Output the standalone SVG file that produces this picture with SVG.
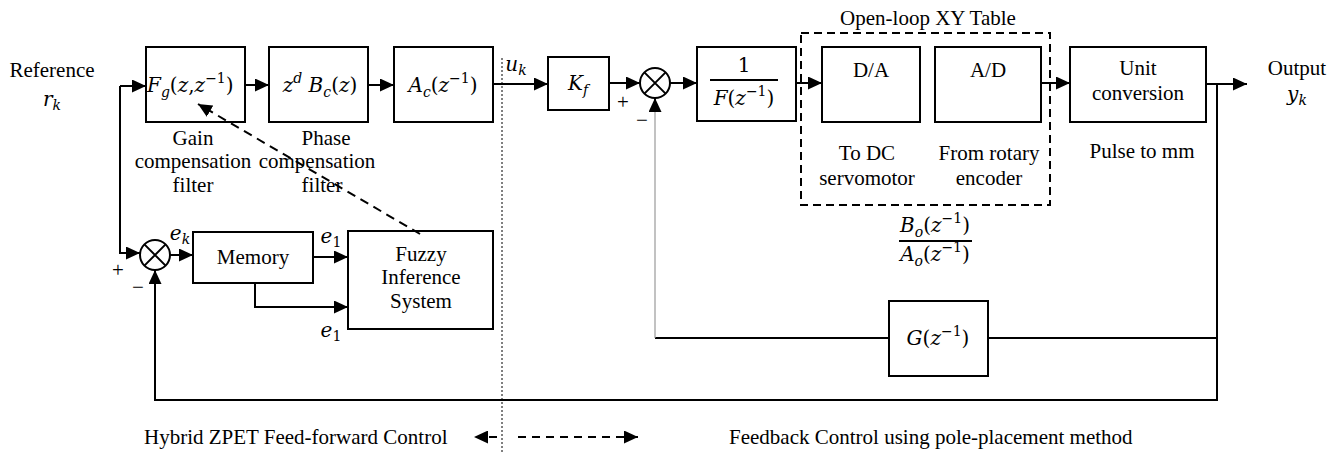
<svg xmlns="http://www.w3.org/2000/svg" width="1343" height="453" viewBox="0 0 1343 453">
<style>
.box{fill:#fff;stroke:#000;stroke-width:2}
.ln{fill:none;stroke:#000;stroke-width:2}
.thin{fill:none;stroke:#999;stroke-width:1.2}
.t{font-family:'Liberation Serif','Times New Roman',Times,serif;font-size:21px;fill:#000}
.m{font-family:'DejaVu Serif','Liberation Serif',serif;font-size:20px;fill:#000}
.i{font-style:italic}
.mid{text-anchor:middle}
</style>
<defs>
<marker id="ah" markerUnits="userSpaceOnUse" markerWidth="15" markerHeight="13" refX="14" refY="6.5" orient="auto">
<path d="M0,0 L14,6.5 L0,13 z" fill="#000"/>
</marker>
</defs>

<g id="openloop">
<rect x="801" y="33" width="249" height="172" fill="none" stroke="#000" stroke-width="2" stroke-dasharray="8 5"/>
<text class="t mid" x="928" y="25">Open-loop XY Table</text>
</g>

<g id="reference">
<text class="t mid" x="52" y="77">Reference</text>
<text class="m mid" x="52" y="106"><tspan class="i">r</tspan><tspan class="i" font-size="14" dy="4">k</tspan></text>
</g>

<g id="gainfilter">
<rect class="box" x="146" y="47" width="99" height="75"/>
<text class="m" x="147" y="92"><tspan class="i">F</tspan><tspan class="i" font-size="14" dy="5">g</tspan><tspan dy="-5">(</tspan><tspan class="i">z</tspan>,<tspan class="i">z</tspan><tspan font-size="14" dy="-9">−1</tspan><tspan dy="9">)</tspan></text>
<text class="t mid" x="193" y="145">Gain</text>
<text class="t mid" x="193" y="168">compensation</text>
<text class="t mid" x="193" y="192">filter</text>
</g>

<g id="phasefilter">
<rect class="box" x="269" y="47" width="99" height="75"/>
<text class="m mid" x="320" y="92"><tspan class="i">z</tspan><tspan class="i" font-size="14" dy="-9">d</tspan><tspan class="i" dy="9"> B</tspan><tspan class="i" font-size="14" dy="5">c</tspan><tspan dy="-5">(</tspan><tspan class="i">z</tspan>)</text>
<text class="t mid" x="326" y="145">Phase</text>
<text class="t mid" x="317" y="168">compensation</text>
<text class="t mid" x="322" y="192">filter</text>
</g>

<g id="ac">
<rect class="box" x="394" y="47" width="99" height="75"/>
<text class="m mid" x="443" y="92"><tspan class="i">A</tspan><tspan class="i" font-size="14" dy="5">c</tspan><tspan dy="-5">(</tspan><tspan class="i">z</tspan><tspan font-size="14" dy="-9">−1</tspan><tspan dy="9">)</tspan></text>
</g>

<g id="uk">
<text class="m mid" x="516" y="71"><tspan class="i">u</tspan><tspan class="i" font-size="14" dy="4">k</tspan></text>
</g>

<g id="kf">
<rect class="box" x="548" y="57" width="61" height="53"/>
<text class="m mid" x="578" y="90"><tspan class="i">K</tspan><tspan class="i" font-size="14" dy="5">f</tspan></text>
</g>

<g id="sum1">
<circle cx="655" cy="83" r="15" fill="#fff" stroke="#000" stroke-width="2"/>
<path class="ln" d="M644.4,72.4 L665.6,93.6 M665.6,72.4 L644.4,93.6"/>
<text class="t mid" x="623" y="109">+</text>
<text class="t mid" x="642" y="127">−</text>
</g>

<g id="invF">
<rect class="box" x="697" y="47" width="99" height="74"/>
<text class="m mid" x="744" y="72">1</text>
<line x1="710" y1="80" x2="778" y2="80" stroke="#000" stroke-width="2"/>
<text class="m mid" x="744" y="105"><tspan class="i">F</tspan>(<tspan class="i">z</tspan><tspan font-size="14" dy="-9">−1</tspan><tspan dy="9">)</tspan></text>
</g>

<g id="da">
<rect class="box" x="822" y="47" width="98" height="75"/>
<text class="t mid" x="871" y="77">D/A</text>
<text class="t mid" x="867" y="160">To DC</text>
<text class="t mid" x="867" y="185">servomotor</text>
</g>

<g id="ad">
<rect class="box" x="935" y="47" width="106" height="75"/>
<text class="t mid" x="988" y="77">A/D</text>
<text class="t mid" x="989" y="160">From rotary</text>
<text class="t mid" x="989" y="185">encoder</text>
</g>

<g id="plant">
<text class="m mid" x="935" y="232"><tspan class="i">B</tspan><tspan class="i" font-size="14" dy="5">o</tspan><tspan dy="-5">(</tspan><tspan class="i">z</tspan><tspan font-size="14" dy="-9">−1</tspan><tspan dy="9">)</tspan></text>
<line x1="899" y1="241" x2="972" y2="241" stroke="#000" stroke-width="2"/>
<text class="m mid" x="935" y="261"><tspan class="i">A</tspan><tspan class="i" font-size="14" dy="5">o</tspan><tspan dy="-5">(</tspan><tspan class="i">z</tspan><tspan font-size="14" dy="-9">−1</tspan><tspan dy="9">)</tspan></text>
</g>

<g id="unit">
<rect class="box" x="1070" y="47" width="136" height="75"/>
<text class="t mid" x="1138" y="75">Unit</text>
<text class="t mid" x="1138" y="100">conversion</text>
<text class="t mid" x="1142" y="158">Pulse to mm</text>
</g>

<g id="output">
<text class="t mid" x="1297" y="75">Output</text>
<text class="m mid" x="1297" y="101"><tspan class="i">y</tspan><tspan class="i" font-size="14" dy="4">k</tspan></text>
</g>

<g id="sum2">
<circle cx="155" cy="255" r="15" fill="#fff" stroke="#000" stroke-width="2"/>
<path class="ln" d="M144.4,244.4 L165.6,265.6 M165.6,244.4 L144.4,265.6"/>
<text class="t mid" x="118" y="277">+</text>
<text class="t mid" x="138" y="294">−</text>
<text class="m mid" x="180" y="240"><tspan class="i">e</tspan><tspan class="i" font-size="14" dy="4">k</tspan></text>
</g>

<g id="memory">
<rect class="box" x="193" y="232" width="120" height="51"/>
<text class="t mid" x="253" y="264">Memory</text>
<text class="m mid" x="331" y="243"><tspan class="i">e</tspan><tspan font-size="14" dy="4">1</tspan></text>
<text class="m mid" x="331" y="337"><tspan class="i">e</tspan><tspan font-size="14" dy="4">1</tspan></text>
</g>

<g id="fuzzy">
<rect class="box" x="348" y="231" width="145" height="98"/>
<text class="t mid" x="421" y="261">Fuzzy</text>
<text class="t mid" x="421" y="284">Inference</text>
<text class="t mid" x="421" y="308">System</text>
</g>

<g id="gfb">
<rect class="box" x="889" y="301" width="99" height="75"/>
<text class="m mid" x="938" y="345"><tspan class="i">G</tspan>(<tspan class="i">z</tspan><tspan font-size="14" dy="-9">−1</tspan><tspan dy="9">)</tspan></text>
</g>

<g id="legend">
<text class="t" x="144" y="444">Hybrid ZPET Feed-forward Control</text>
<text class="t" x="729" y="444">Feedback Control using pole-placement method</text>
</g>

<g id="connectors">
<path class="ln" d="M120,86 H146" marker-end="url(#ah)"/>
<path class="ln" d="M120,86 V253 H140" marker-end="url(#ah)"/>
<path class="ln" d="M245,85 H269" marker-end="url(#ah)"/>
<path class="ln" d="M368,85 H394" marker-end="url(#ah)"/>
<path class="ln" d="M493,84 H548" marker-end="url(#ah)"/>
<path class="ln" d="M609,83 H640" marker-end="url(#ah)"/>
<path class="ln" d="M670,83 H697" marker-end="url(#ah)"/>
<path class="ln" d="M796,83 H822" marker-end="url(#ah)"/>
<path class="ln" d="M1041,83 H1070" marker-end="url(#ah)"/>
<path class="ln" d="M1206,84 H1247" marker-end="url(#ah)"/>
<path class="ln" d="M1217,84 V400 H155 V270" marker-end="url(#ah)"/>
<path class="ln" d="M1217,338 H988"/>
<path class="ln" d="M889,338 H655"/>
<path class="thin" d="M655,338 V112"/>
<path class="ln" d="M655,112 V98" marker-end="url(#ah)"/>
<path class="ln" d="M170,255 H193" marker-end="url(#ah)"/>
<path class="ln" d="M313,257 H348" marker-end="url(#ah)"/>
<path class="ln" d="M255,283 V307 H348" marker-end="url(#ah)"/>
<path class="ln" d="M420,234 L198,104" stroke-dasharray="9 6" marker-end="url(#ah)"/>
<line x1="502" y1="58" x2="502" y2="453" stroke="#000" stroke-width="1" stroke-dasharray="2 2"/>
<path class="ln" d="M497,437 H474" stroke-dasharray="8 4" marker-end="url(#ah)"/>
<path class="ln" d="M518,437 H638" stroke-dasharray="8 6" marker-end="url(#ah)"/>
</g>
</svg>
